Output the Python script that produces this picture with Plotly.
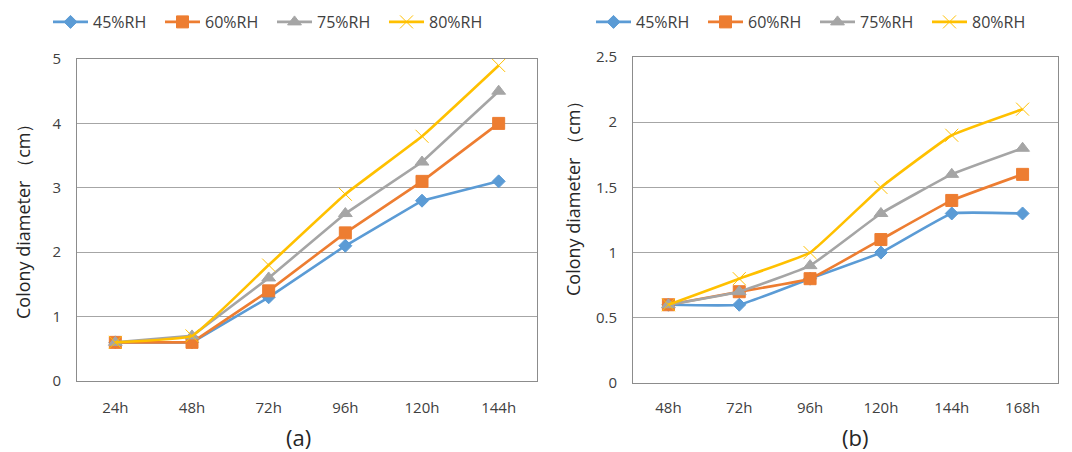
import plotly.graph_objects as go

# Colony growth at different relative humidities
series_names = ["45%RH", "60%RH", "75%RH", "80%RH"]

hours_a = ["24h", "48h", "72h", "96h", "120h", "144h"]
rh45_a = [0.6, 0.6, 1.3, 2.1, 2.8, 3.1]
rh60_a = [0.6, 0.6, 1.4, 2.3, 3.1, 4.0]
rh75_a = [0.6, 0.7, 1.6, 2.6, 3.4, 4.5]
rh80_a = [0.6, 0.7, 1.8, 2.9, 3.8, 4.9]

hours_b = ["48h", "72h", "96h", "120h", "144h", "168h"]
rh45_b = [0.6, 0.6, 0.8, 1.0, 1.3, 1.3]
rh60_b = [0.6, 0.7, 0.8, 1.1, 1.4, 1.6]
rh75_b = [0.6, 0.7, 0.9, 1.3, 1.6, 1.8]
rh80_b = [0.6, 0.8, 1.0, 1.5, 1.9, 2.1]

colors = ["#5B9BD5", "#ED7D31", "#A5A5A5", "#FFC000"]
symbols = ["diamond", "square", "triangle-up", "x-thin"]
msizes = [10, 12, 12, 13]

W, H = 1072, 452
FONT = "Open Sans"


def px(x):
    return x / W


def py(y):
    return 1 - y / H


fig = go.Figure()

panels = [
    (hours_a, [rh45_a, rh60_a, rh75_a, rh80_a], "x", "y", "legend"),
    (hours_b, [rh45_b, rh60_b, rh75_b, rh80_b], "x2", "y2", "legend2"),
]
for p, (hrs, vals, xa, ya, leg) in enumerate(panels):
    for i, name in enumerate(series_names):
        smooth = (p == 1) or (i == 3)
        fig.add_trace(go.Scatter(
            x=hrs, y=vals[i], name=name, mode="lines+markers",
            xaxis=xa, yaxis=ya, legend=leg,
            line=dict(color=colors[i], width=2.6,
                      shape="spline" if smooth else "linear", smoothing=0.3),
            marker=dict(symbol=symbols[i], size=msizes[i], color=colors[i],
                        line=dict(color=colors[i], width=1)),
        ))

axis_common = dict(
    showline=True, linecolor="#8C8C8C", linewidth=1, mirror=True,
    ticks="", tickfont=dict(family=FONT, size=15, color="#404040"),
    zeroline=False, automargin=False,
)

legend_common = dict(
    orientation="h", xanchor="left", yanchor="middle",
    font=dict(family=FONT, size=16, color="#404040"),
    itemwidth=35, entrywidth=62, entrywidthmode="pixels",
    bgcolor="rgba(0,0,0,0)",
)

fig.update_layout(
    width=W, height=H,
    margin=dict(l=0, r=0, t=0, b=0, autoexpand=False),
    paper_bgcolor="white", plot_bgcolor="white",
    font=dict(family=FONT, color="#404040"),
    xaxis=dict(domain=[px(77), px(537)], anchor="y", type="category",
               range=[-0.5, 5.5], showgrid=False, ticklabelstandoff=13, **axis_common),
    yaxis=dict(domain=[py(381), py(59)], anchor="x", range=[0, 5], dtick=1,
               showgrid=True, gridcolor="#A6A6A6", gridwidth=1,
               ticklabelstandoff=12, **axis_common),
    xaxis2=dict(domain=[px(633), px(1058)], anchor="y2", type="category",
                range=[-0.5, 5.5], showgrid=False, ticklabelstandoff=11, **axis_common),
    yaxis2=dict(domain=[py(383), py(57)], anchor="x2", range=[0, 2.5], dtick=0.5,
                showgrid=True, gridcolor="#A6A6A6", gridwidth=1,
                ticklabelstandoff=12, **axis_common),
    legend=dict(x=px(48), y=py(22), **legend_common),
    legend2=dict(x=px(591), y=py(22), **legend_common),
    showlegend=True,
)

annotations = [
    dict(text="Colony diameter （cm）", x=px(23), y=py(217), textangle=-90),
    dict(text="Colony diameter （cm）", x=px(573), y=py(194), textangle=-90),
]
for a in annotations:
    fig.add_annotation(xref="paper", yref="paper", showarrow=False,
                       xanchor="center", yanchor="middle",
                       font=dict(family=FONT, size=18, color="#262626"), **a)

for label, xc in [("(a)", 298), ("(b)", 855)]:
    fig.add_annotation(text=label, xref="paper", yref="paper", x=px(xc), y=py(437),
                       xanchor="center", yanchor="middle", showarrow=False,
                       font=dict(family=FONT, size=22, color="#262626"))

fig.write_html("out.html")
